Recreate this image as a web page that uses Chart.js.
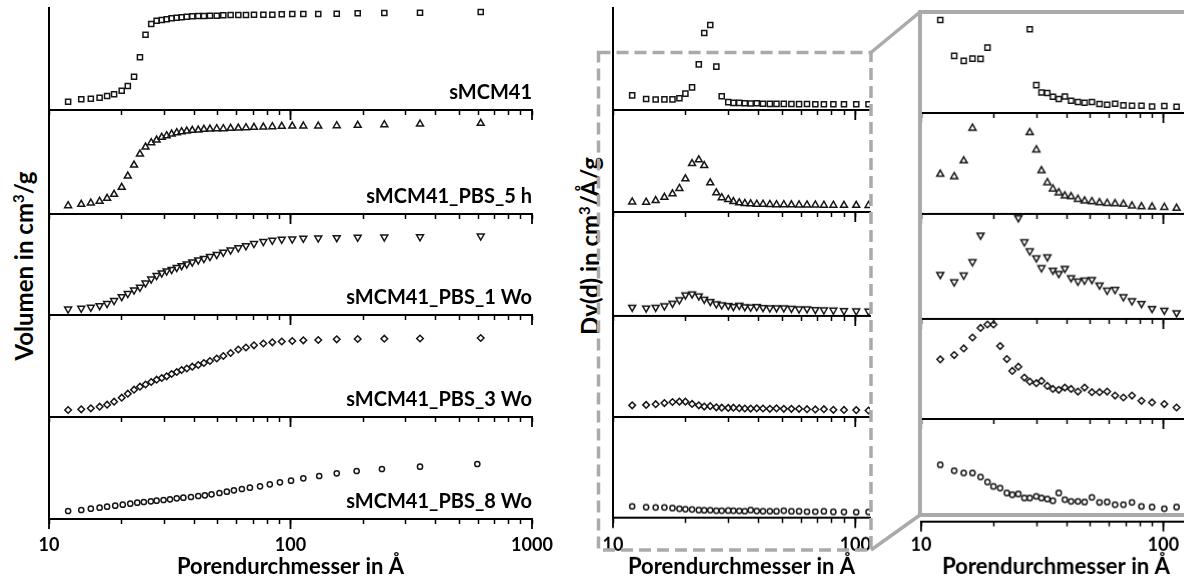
<!DOCTYPE html>
<html>
<head>
<meta charset="utf-8">
<script src="https://cdn.jsdelivr.net/npm/chart.js@4.4.1/dist/chart.umd.min.js"></script>
<style>
html, body { margin: 0; padding: 0; background: #fff; }
#fig { position: relative; width: 1184px; height: 581px; overflow: hidden; font-family: Lato, sans-serif; }
#fig canvas { position: absolute; }
.ytitle { position: absolute; transform: translate(-50%, -50%) rotate(-90deg); white-space: nowrap;
          font-weight: bold; font-size: 24px; color: #000; }
.ytitle sup { font-size: 0.62em; }
#frames { position: absolute; left: 0; top: 0; z-index: 5; }
</style>
</head>
<body>
<div id="fig">
  <div class="ytitle" style="left:23px; top:266px">Volumen in cm<sup>3</sup>/g</div>
  <div class="ytitle" style="left:589px; top:246px">Dv(d) in cm<sup>3</sup>/&#197;/g</div>
  <svg id="frames" width="1184" height="581">
    <rect x="598.5" y="52.5" width="272.5" height="497.5" fill="none" stroke="#aaaaaa" stroke-width="3.5" stroke-dasharray="12 6"/>
    <rect x="920" y="12" width="320" height="503" fill="none" stroke="#aaaaaa" stroke-width="4"/>
    <line x1="871" y1="52.5" x2="920" y2="12" stroke="#aaaaaa" stroke-width="3.5"/>
    <line x1="871" y1="550" x2="920" y2="515" stroke="#aaaaaa" stroke-width="3.5"/>
  </svg>
</div>
<script>
// pore diameters (Å) of the isotherm-derived points
const poreIso = [12.0, 13.6, 14.9, 16.2, 17.4, 18.6, 20.0, 21.2, 22.5, 23.8, 25.1, 26.5, 27.9, 29.3, 30.7,
  32.2, 33.8, 35.4, 37.2, 39.2, 41.5, 43.8, 46.4, 49.5, 52.7, 56.5, 60.8, 65.4, 70.6, 77.2, 84.1, 92.0,
  101.7, 113.0, 130.3, 155.4, 189.8, 244.6, 343.8, 613.3];
const poreIso8 = [12.0, 13.6, 14.9, 16.2, 17.4, 18.8, 20.2, 21.7, 23.2, 24.7, 26.4, 27.9, 29.8, 31.7, 33.8,
  36.0, 38.7, 41.5, 44.2, 47.1, 50.8, 54.5, 58.3, 62.9, 67.9, 74.8, 82.1, 90.4, 100.5, 113.0, 131.5, 155.4,
  187.9, 239.1, 343.8, 593.6];

// cumulative volume (relative units per panel)
const volSMCM41 = [8.3, 10.7, 11.3, 12.3, 14, 15.7, 19.3, 24, 33.3, 52.7, 75.3, 86, 89.3, 90, 90.7, 91.7, 92.3,
  92.7, 93.3, 93.7, 94, 94, 94.3, 94.3, 94.7, 95, 95, 95, 95.3, 95.3, 95.3, 95.7, 96, 96, 96, 96.3, 96.7, 97, 97.3, 98];
const vol5h = [8.3, 9.7, 11, 12.7, 15.7, 19.7, 26.7, 38, 49, 60, 67, 71.3, 74, 76.7, 78.3, 80, 81.3, 82.3, 83,
  83.7, 84, 84.7, 85, 85.3, 85.3, 85.7, 86, 86.3, 86.7, 87, 87.3, 87.7, 88, 88, 88, 88.3, 88.7, 89.3, 90, 90.7];
const vol1Wo = [6, 6.7, 7.7, 9.3, 11.5, 14.5, 18.3, 21.5, 25, 27.7, 32, 36, 39.5, 42, 44, 45.5, 47.5, 49.3, 51,
  53, 55, 56.5, 58.5, 60.5, 62.7, 65, 67.2, 69.2, 71.4, 73.5, 74.7, 75.7, 76, 76.7, 77, 77.3, 77.7, 78, 78.2, 79];
const vol3Wo = [7, 7.7, 8.7, 10.3, 12.3, 15.3, 19.3, 23.3, 27.3, 30.3, 32.5, 35, 37.3, 39, 40.7, 43, 45, 47,
  48.5, 50.3, 52, 54, 56, 58.5, 61, 64, 67.5, 69.5, 71.7, 73.5, 74.7, 75.5, 76, 76.7, 77, 77.7, 78, 78.3, 78.5, 79];
const vol8Wo = [8, 9, 10.3, 11.3, 12.3, 13.3, 14.3, 15.3, 16.3, 17, 17.7, 18.3, 19, 19.7, 20.7, 21.3, 22, 23,
  23.7, 24.7, 26, 27.3, 28.7, 30, 31.3, 32.7, 34.7, 36.7, 38.3, 40.7, 43, 45.7, 48, 50, 52.3, 55];

// pore size distribution
const porePsd = [12.0, 13.7, 15.0, 16.3, 17.6, 18.8, 19.9, 21.2, 22.6, 23.8, 25.2, 26.7, 28.1, 29.9, 31.4, 33.2,
  35.0, 37.0, 39.2, 41.6, 44.4, 47.3, 50.7, 54.5, 58.6, 63.2, 68.4, 74.2, 81.2, 89.8, 100.9, 113.4];
const dvSMCM41 = [14.67, 10.95, 10.43, 10.67, 10.64, 11.81, 16.33, 22.67, 45.67, 77, 85, 43.33, 13.71, 7.92, 7.16,
  7.10, 6.71, 6.48, 6.74, 6.30, 6.17, 6.09, 6.17, 5.96, 5.89, 5.99, 5.82, 5.78, 5.78, 5.71, 5.75, 5.68];
const dv5h = [10.10, 9.86, 11.46, 14.79, 18.3, 23.6, 33.3, 48.6, 52.3, 46.6, 29.3, 19.3, 14.35, 12.58, 10.47, 9.24,
  8.60, 8.22, 7.89, 7.82, 7.55, 7.38, 7.31, 7.20, 7.14, 7.10, 7.04, 6.87, 6.79, 6.76, 6.73, 6.63];
const dv1Wo = [8.65, 7.89, 8.58, 9.95, 12.68, 16, 21, 22, 20, 16.7, 14.46, 12.0, 11.07, 10.36, 9.33, 10.46, 9.09,
  8.76, 9.27, 8.31, 7.97, 8.07, 8.14, 7.56, 7.04, 7.12, 6.36, 5.95, 5.68, 5.17, 4.99, 4.72];
const dv3Wo = [11.68, 12.14, 12.85, 14.02, 15.04, 15.41, 15.41, 13.10, 11.71, 10.44, 10.90, 9.73, 9.30, 9.13, 9.37,
  8.84, 8.52, 8.42, 8.66, 8.52, 8.24, 8.66, 8.17, 8.17, 8.24, 7.81, 7.60, 7.81, 7.25, 7.07, 6.90, 6.53];
const dv8Wo = [11.61, 10.82, 10.52, 10.52, 9.99, 9.33, 8.76, 8.54, 7.89, 7.66, 7.76, 7.23, 7.23, 7.44, 7.23, 7.10,
  6.87, 7.89, 7.01, 6.78, 6.78, 6.70, 7.31, 6.65, 6.70, 6.35, 6.35, 6.65, 6.12, 6.04, 5.82, 6.04];

const samples = ['sMCM41', 'sMCM41_PBS_5 h', 'sMCM41_PBS_1 Wo', 'sMCM41_PBS_3 Wo', 'sMCM41_PBS_8 Wo'];
const isoTicks = [10, 20, 30, 40, 50, 60, 70, 80, 90, 100, 200, 300, 400, 500, 600, 700, 800, 900, 1000];
const psdTicks = [10, 20, 30, 40, 50, 60, 70, 80, 90, 100];
const tickLabels = [10, 100, 1000];
// y window of the zoomed panel, same units as the dv arrays
const zoomMin = [5.03, 6.05, 4.1, 5.3, 4.15];
const zoomMax = [15.5, 16.33, 14.84, 16.0, 17.62];

const isoSeries = [[poreIso, volSMCM41], [poreIso, vol5h], [poreIso, vol1Wo], [poreIso, vol3Wo], [poreIso8, vol8Wo]];
const psdSeries = [dvSMCM41, dv5h, dv1Wo, dv3Wo, dv8Wo];

const markers = [
  { pointStyle: 'rect', radius: 3.6, rotation: 0 },
  { pointStyle: 'triangle', radius: 4, rotation: 0 },
  { pointStyle: 'triangle', radius: 4, rotation: 180 },
  { pointStyle: 'rectRot', radius: 3.3, rotation: 0 },
  { pointStyle: 'circle', radius: 2.6, rotation: 0 }
];

const FONT = 'Lato';

// longer tick marks at the decades
const decadeTicks = {
  id: 'decadeTicks',
  afterDraw(chart) {
    const s = chart.scales.x, ctx = chart.ctx;
    ctx.save();
    ctx.strokeStyle = '#000';
    ctx.lineWidth = 1.8;
    tickLabels.forEach(v => {
      if (v < s.min || v > s.max) return;
      const px = s.getPixelForValue(v);
      ctx.beginPath();
      ctx.moveTo(px, s.top);
      ctx.lineTo(px, s.top + 10);
      ctx.stroke();
    });
    ctx.restore();
  }
};

const sampleLabel = {
  id: 'sampleLabel',
  afterDraw(chart, args, opts) {
    if (!opts.text) return;
    const { ctx, chartArea: a } = chart;
    ctx.save();
    ctx.font = 'bold 20px ' + FONT;
    ctx.fillStyle = '#000';
    ctx.textAlign = 'right';
    ctx.textBaseline = 'alphabetic';
    ctx.fillText(opts.text, a.right, a.bottom - 11);
    ctx.restore();
  }
};

const fig = document.getElementById('fig');

function bandChart(o) {
  const padL = 30, padR = 30, padT = 12;
  const axisH = o.isBottom ? (581 - o.bottom) : 12;
  const w = o.x1 - o.x0 + padL + padR;
  const h = padT + (o.bottom - o.top) + axisH;
  const cv = document.createElement('canvas');
  cv.width = w; cv.height = h;
  cv.style.left = (o.x0 - padL) + 'px';
  cv.style.top = (o.top - padT) + 'px';
  cv.style.width = w + 'px'; cv.style.height = h + 'px';
  fig.appendChild(cv);

  new Chart(cv, {
    type: 'scatter',
    data: {
      datasets: [{
        data: o.xs.map((x, i) => ({ x: x, y: o.ys[i] })),
        pointStyle: o.marker.pointStyle,
        pointRadius: o.marker.radius,
        rotation: o.marker.rotation,
        borderColor: '#151515',
        backgroundColor: 'rgba(0,0,0,0)',
        pointBorderWidth: 1.5
      }]
    },
    options: {
      responsive: false,
      animation: false,
      events: [],
      layout: { padding: { left: padL, right: padR, top: padT, bottom: 0 }, autoPadding: false },
      plugins: {
        legend: { display: false },
        tooltip: { enabled: false },
        sampleLabel: { text: o.label || '' }
      },
      scales: {
        x: {
          type: 'logarithmic',
          min: 10,
          max: o.xmax,
          afterBuildTicks: s => { s.ticks = o.ticks.filter(v => v <= o.xmax).map(v => ({ value: v })); },
          afterFit: s => { s.height = axisH; s.paddingLeft = 0; s.paddingRight = 0; },
          grid: { display: true, drawOnChartArea: false, drawTicks: true, tickLength: 5, tickWidth: 1.5, tickColor: '#000' },
          border: { display: true, color: '#000', width: 2 },
          ticks: {
            display: o.isBottom, autoSkip: false, maxRotation: 0, padding: 545 - o.bottom - 15.8,
            color: '#000', font: { family: FONT, weight: 'bold', size: 18 },
            callback: v => tickLabels.includes(v) ? String(v) : ''
          },
          title: {
            display: o.isBottom, text: 'Porendurchmesser in Å', color: '#000',
            font: { family: FONT, weight: 'bold', size: 22 }, padding: { top: 0, bottom: 1 }
          }
        },
        y: {
          type: 'linear',
          min: o.ymin,
          max: o.ymax,
          afterFit: s => { s.width = 0; s.paddingTop = 0; s.paddingBottom = 0; },
          grid: { display: false, drawTicks: false },
          ticks: { display: false },
          border: { display: o.yAxis, color: '#000', width: 2 }
        }
      }
    },
    plugins: [decadeTicks, sampleLabel]
  });
}

const leftPanel = { x0: 49, x1: 532, xmax: 1000, ticks: isoTicks, edges: [8, 110, 214, 315, 417, 519], yAxis: true };
const midPanel = { x0: 613, x1: 870.4, xmax: 115, ticks: psdTicks, edges: [8, 110, 212.3, 316, 417.3, 518.3], yAxis: true };
const zoomPanel = { x0: 921, x1: 1190.6, xmax: 130, ticks: psdTicks, edges: [12, 113.3, 214, 318.7, 419.3, 521.7], yAxis: false };

for (let k = 0; k < 5; k++) {
  const isBottom = k === 4;
  let p = leftPanel;
  bandChart({ x0: p.x0, x1: p.x1, xmax: p.xmax, ticks: p.ticks, top: p.edges[k], bottom: p.edges[k + 1],
    ymin: 0, ymax: p.edges[k + 1] - p.edges[k], xs: isoSeries[k][0], ys: isoSeries[k][1],
    marker: markers[k], isBottom: isBottom, yAxis: p.yAxis, label: samples[k] });

  p = midPanel;
  bandChart({ x0: p.x0, x1: p.x1, xmax: p.xmax, ticks: p.ticks, top: p.edges[k], bottom: p.edges[k + 1],
    ymin: 0, ymax: p.edges[k + 1] - p.edges[k], xs: porePsd, ys: psdSeries[k],
    marker: markers[k], isBottom: isBottom, yAxis: p.yAxis });

  p = zoomPanel;
  bandChart({ x0: p.x0, x1: p.x1, xmax: p.xmax, ticks: p.ticks, top: p.edges[k], bottom: p.edges[k + 1],
    ymin: zoomMin[k], ymax: zoomMax[k], xs: porePsd, ys: psdSeries[k],
    marker: markers[k], isBottom: isBottom, yAxis: p.yAxis });
}
</script>
</body>
</html>
